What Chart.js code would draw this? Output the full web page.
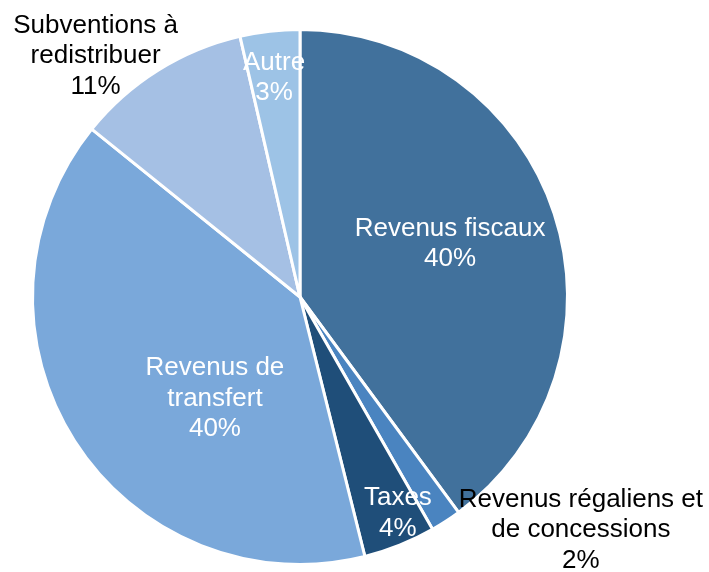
<!DOCTYPE html>
<html>
<head>
<meta charset="utf-8">
<script src="https://cdn.jsdelivr.net/npm/chart.js@4/dist/chart.umd.min.js"></script>
<style>
  html, body { margin: 0; padding: 0; background: #ffffff; }
  #wrap { width: 709px; height: 572px; position: relative; }
</style>
</head>
<body>
<div id="wrap"><canvas id="c" width="709" height="572"></canvas></div>
<script>
// ---- Data ----
const categories = [
  ["Revenus fiscaux"],
  ["Revenus régaliens et", "de concessions"],
  ["Taxes"],
  ["Revenus de", "transfert"],
  ["Subventions à", "redistribuer"],
  ["Autre"]
];
const values = [39.9, 1.85, 4.35, 39.7, 10.6, 3.6];
const percentLabels = ["40%", "2%", "4%", "40%", "11%", "3%"];

// ---- Styles ----
const sliceColors = ["#41719C", "#4A84C0", "#1F4E79", "#7AA8DA", "#A5C0E4", "#9DC3E6"];
const labelColors = ["#ffffff", "#000000", "#ffffff", "#ffffff", "#000000", "#ffffff"];
// label anchor (centre x, first baseline) relative to pie centre, in units of radius
const labelOffsets = [
  [0.561, -0.229],
  [1.050, 0.785],
  [0.366, 0.778],
  [-0.318, 0.292],
  [-0.764, -0.987],
  [-0.097, -0.849]
];
const FONT_SIZE = 26;
const LINE_H = 30.5;

const labelPlugin = {
  id: 'sliceLabels',
  afterDatasetsDraw(chart) {
    const ctx = chart.ctx;
    const meta = chart.getDatasetMeta(0);
    ctx.save();
    ctx.font = FONT_SIZE + 'px "Liberation Sans", Arial, sans-serif';
    ctx.textAlign = 'center';
    ctx.textBaseline = 'alphabetic';
    meta.data.forEach((arc, i) => {
      const r = arc.outerRadius;
      const x = arc.x + labelOffsets[i][0] * r;
      let y = arc.y + labelOffsets[i][1] * r;
      ctx.fillStyle = labelColors[i];
      const lines = categories[i].concat([percentLabels[i]]);
      lines.forEach((ln) => {
        ctx.fillText(ln, x, y);
        y += LINE_H;
      });
    });
    ctx.restore();
  }
};

new Chart(document.getElementById('c'), {
  type: 'pie',
  data: {
    labels: categories.map(c => c.join(' ')),
    datasets: [{
      data: values,
      backgroundColor: sliceColors,
      borderColor: '#ffffff',
      borderWidth: 3,
      hoverOffset: 0
    }]
  },
  options: {
    responsive: false,
    animation: false,
    rotation: 0,
    layout: { padding: { left: 31, top: 28, right: 140, bottom: 6 } },
    plugins: {
      legend: { display: false },
      tooltip: { enabled: false }
    }
  },
  plugins: [labelPlugin]
});
</script>
</body>
</html>
